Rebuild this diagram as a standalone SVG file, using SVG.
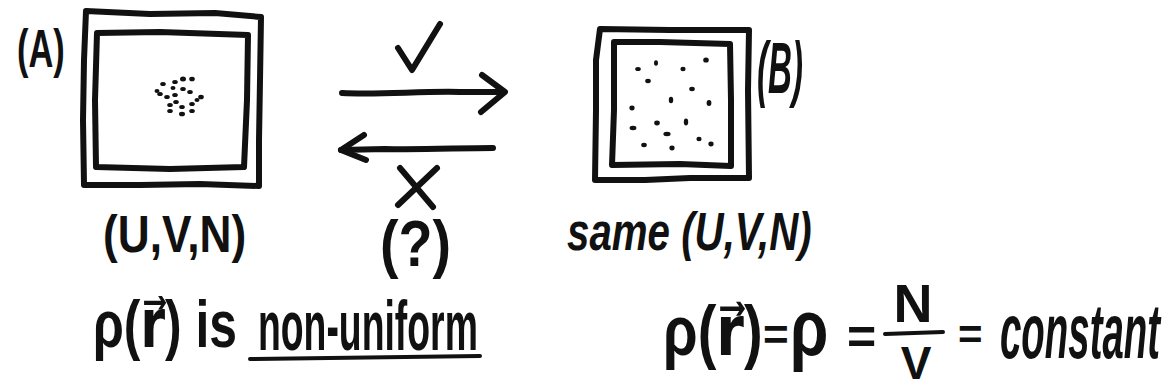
<svg xmlns="http://www.w3.org/2000/svg" width="1167" height="391" viewBox="0 0 1167 391">
<style>
.ln{fill:none;stroke:#111;stroke-width:6;stroke-linecap:round;stroke-linejoin:round}
.ln2{fill:none;stroke:#111;stroke-width:4;stroke-linecap:round;stroke-linejoin:round}
.t{font-family:"Liberation Sans","DejaVu Sans",sans-serif;fill:#111;font-weight:bold}
.i{font-style:italic}
.d{fill:#111}
</style>
<rect width="1167" height="391" fill="#fff"/>
<g id="stateA">
<path class="ln" d="M86,11 L150,14 L215,13 L261,17 L260,80 L259,140 L259,186 L200,184 L140,185 L84,185 L83,120 L84,60 Z"/>
<path class="ln" d="M97,33 L160,32 L248,35 L247,100 L244,167 L170,169 L96,167 L95,100 Z"/>
<g class="d">
<ellipse cx="163" cy="84" rx="2.8" ry="2.1"/><ellipse cx="175" cy="82" rx="2.8" ry="2.1"/><ellipse cx="183" cy="79" rx="3" ry="2.5"/><ellipse cx="192" cy="79" rx="2.8" ry="2.3"/>
<ellipse cx="160" cy="94" rx="2.8" ry="2.1"/><ellipse cx="167" cy="97" rx="2.8" ry="2.1"/><ellipse cx="175" cy="95" rx="2.8" ry="2.1"/><ellipse cx="183" cy="89" rx="2.8" ry="2.1"/>
<ellipse cx="190" cy="92" rx="2.8" ry="2.1"/><ellipse cx="201" cy="97" rx="2.8" ry="2.3"/><ellipse cx="170" cy="105" rx="2.8" ry="2.1"/><ellipse cx="176" cy="102" rx="2.8" ry="2.1"/>
<ellipse cx="182" cy="107" rx="2.8" ry="2.1"/><ellipse cx="192" cy="104" rx="2.8" ry="2.1"/><ellipse cx="197" cy="100" rx="2.5" ry="2.1"/><ellipse cx="170" cy="111" rx="2.8" ry="2.1"/>
<ellipse cx="182" cy="114" rx="3" ry="2.3"/><ellipse cx="192" cy="111" rx="2.8" ry="2.1"/><ellipse cx="157" cy="91" rx="2.5" ry="2.1"/><ellipse cx="173" cy="88" rx="2.5" ry="2.1"/>
</g>
<text class="t" transform="translate(17,67) scale(0.65,1)" font-size="53">(A)</text>
<text class="t" transform="translate(103,252) scale(0.85,1)" font-size="52">(U,V,N)</text>
</g>
<g id="stateB">
<path class="ln" d="M600,29 L670,30 L749,30 L748,90 L749,178 L690,178 L645,180 L595,180 L596,110 L596,60 Z"/>
<path class="ln" d="M614,42 L660,42 L730,44 L731,100 L731,166 L680,164 L612,165 L614,110 Z"/>
<g class="d">
<ellipse cx="638" cy="69" rx="2.8" ry="2"/><ellipse cx="656" cy="63" rx="2" ry="2.8"/><ellipse cx="683" cy="69" rx="2.6" ry="2.2"/><ellipse cx="706" cy="60" rx="2.8" ry="2.6"/>
<ellipse cx="648" cy="81" rx="2.8" ry="2.2"/><ellipse cx="692" cy="89" rx="2.8" ry="2.2"/><ellipse cx="671" cy="100" rx="2.2" ry="3.2"/><ellipse cx="632" cy="108" rx="2.6" ry="2.4"/>
<ellipse cx="709" cy="103" rx="2.4" ry="3"/><ellipse cx="657" cy="123" rx="2.8" ry="2.4"/><ellipse cx="686" cy="122" rx="2.2" ry="3.4"/><ellipse cx="633" cy="128" rx="3.4" ry="2.2"/>
<ellipse cx="667" cy="134" rx="3.6" ry="2.2"/><ellipse cx="699" cy="139" rx="2.6" ry="2.2"/><ellipse cx="711" cy="144" rx="2.6" ry="2.4"/><ellipse cx="644" cy="145" rx="2.8" ry="2.2"/>
<ellipse cx="672" cy="148" rx="2.6" ry="2.4"/>
</g>
<text class="t i" transform="translate(757,93) scale(0.46,1)" font-size="72">(B)</text>
<text class="t i" transform="translate(567,250) scale(0.76,1)" font-size="53">same (U,V,N)</text>
</g>
<g id="connectors">
<path class="ln" d="M342,93 C380,95 420,91 460,92 L503,92"/>
<path class="ln" d="M482,75 L505,92 L481,112"/>
<path class="ln" d="M493,148 C460,148 420,150 385,149 L341,150"/>
<path class="ln" d="M364,135 L341,150 L366,160"/>
</g>
<g id="labels">
<path class="ln" d="M398,48 L412,70 L440,24"/>
<path class="ln" d="M398,205 L437,168 M400,168 L433,207"/>
<text class="t" transform="translate(380,266) scale(0.87,1)" font-size="64">(?)</text>
<text class="t" transform="translate(93,347) scale(0.89,1.2)" font-size="56">ρ(r⃗) is</text>
<text class="t" transform="translate(258,350) scale(0.644,1.2)" font-size="58">non-uniform</text>
<path class="ln2" d="M250,359 C320,358 400,357 480,356"/>
<text class="t" transform="translate(663,355) scale(1,1.25)" font-size="56">ρ(r⃗)</text>
<text class="t" x="763" y="350" font-size="44">=</text>
<text class="t" transform="translate(790,355) scale(1,1.3)" font-size="62">ρ</text>
<text class="t" x="847" y="354" font-size="50">=</text>
<text class="t" x="913" y="322" font-size="54" text-anchor="middle">N</text>
<path class="ln2" d="M885,334 L943,332"/>
<text class="t" x="916" y="379" font-size="46" text-anchor="middle">V</text>
<text class="t" x="958" y="349" font-size="42">=</text>
<text class="t i" transform="translate(1000,358) scale(0.62,1.25)" font-size="62">constant</text>
</g>
</svg>
